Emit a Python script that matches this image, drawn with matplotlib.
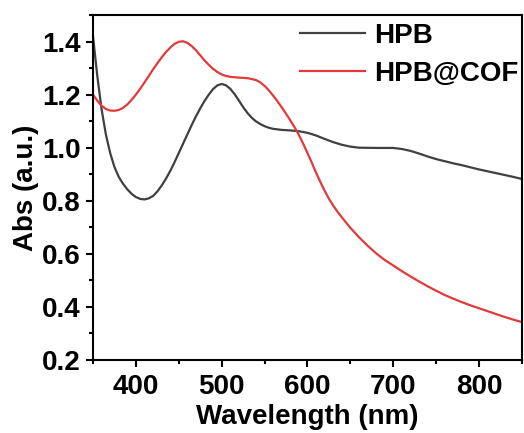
import numpy as np
from matplotlib import pyplot as plt
from matplotlib.ticker import MultipleLocator

plt.rcParams['font.family'] = ['Liberation Sans', 'DejaVu Sans']
plt.rcParams['font.weight'] = 'bold'
plt.rcParams['font.size'] = 20

# wavelength (nm) and absorbance
wl_hpb = [350, 355, 360, 365, 370, 375, 380, 385, 390, 395, 400, 405, 410, 415, 420,
          425, 430, 435, 440, 445, 450, 455, 460, 465, 470, 475, 480, 485, 490, 495,
          500, 505, 510, 515, 520, 525, 530, 535, 540, 545, 550, 555, 560, 570, 580, 590,
          600, 610, 620, 630, 640, 650, 660, 680, 700, 710, 720, 730, 740, 750, 760,
          770, 780, 790, 800, 810, 820, 830, 840, 850]
abs_hpb = [1.42, 1.27, 1.145, 1.05, 0.98, 0.927, 0.89, 0.864, 0.843, 0.826, 0.814, 0.807, 0.805, 0.809, 0.818,
           0.835, 0.857, 0.883, 0.912, 0.945, 0.98, 1.015, 1.05, 1.085, 1.118, 1.148, 1.176, 1.2, 1.221, 1.235,
           1.24, 1.235, 1.222, 1.202, 1.178, 1.153, 1.131, 1.113, 1.099, 1.089, 1.081, 1.075, 1.071, 1.067, 1.065, 1.062,
           1.056, 1.046, 1.033, 1.021, 1.011, 1.004, 1.0, 0.999, 0.999, 0.995, 0.988, 0.978, 0.967, 0.957, 0.949,
           0.941, 0.934, 0.926, 0.918, 0.911, 0.904, 0.897, 0.89, 0.882]

wl_cof = [350, 355, 360, 365, 370, 375, 380, 385, 390, 395, 400, 405, 410, 415, 420,
          425, 430, 435, 440, 445, 450, 455, 460, 465, 470, 475, 480, 485, 490, 495,
          500, 505, 510, 520, 530, 540, 545, 550, 555, 560, 565, 570, 575, 580, 585,
          590, 595, 600, 605, 610, 615, 620, 625, 630, 635, 640, 650, 660, 670, 680,
          690, 700, 710, 720, 730, 740, 750, 760, 770, 780, 790, 800, 810, 820, 830,
          840, 850]
abs_cof = [1.20, 1.177, 1.158, 1.146, 1.14, 1.139, 1.142, 1.15, 1.163, 1.18, 1.20, 1.222, 1.246, 1.27, 1.295,
           1.318, 1.34, 1.36, 1.377, 1.391, 1.399, 1.401, 1.395, 1.383, 1.367, 1.348, 1.329, 1.312, 1.297, 1.285,
           1.276, 1.27, 1.267, 1.264, 1.262, 1.255, 1.246, 1.233, 1.216, 1.196, 1.175, 1.152, 1.128, 1.103, 1.077,
           1.048, 1.015, 0.98, 0.944, 0.906, 0.871, 0.838, 0.808, 0.782, 0.759, 0.738, 0.698, 0.663, 0.631, 0.602,
           0.577, 0.556, 0.535, 0.515, 0.496, 0.478, 0.461, 0.445, 0.431, 0.418, 0.406, 0.395, 0.384, 0.373, 0.362,
           0.352, 0.343]

fig = plt.figure(figsize=(5.24, 4.33), dpi=100)
ax = fig.add_axes([0.1775, 0.1686, 0.8185, 0.7968])

ax.plot(wl_hpb, abs_hpb, color='#404040', lw=1.6, label='HPB')
ax.plot(wl_cof, abs_cof, color='#e23a3a', lw=1.6, label='HPB@COF')

ax.set_xlim(350, 850)
ax.set_ylim(0.2, 1.5)
ax.xaxis.set_major_locator(MultipleLocator(100))
ax.xaxis.set_minor_locator(MultipleLocator(50))
ax.yaxis.set_minor_locator(MultipleLocator(0.1))
ax.set_yticks([0.2, 0.4, 0.6, 0.8, 1.0, 1.2, 1.4])
ax.tick_params(axis='x', which='major', direction='out', length=5, width=1.5, pad=5)
ax.tick_params(axis='y', which='major', direction='out', length=5, width=1.5, pad=4)
ax.tick_params(which='minor', direction='out', length=3, width=1.5)
for s in ax.spines.values():
    s.set_linewidth(1.5)

ax.set_xlabel('Wavelength (nm)', fontweight='bold', labelpad=3)
ax.set_ylabel('Abs (a.u.)', fontweight='bold', labelpad=2)

ax.legend(loc='upper right', frameon=False, handlelength=2.35, handletextpad=0.32,
          labelspacing=0.45, borderaxespad=0.0, bbox_to_anchor=(1.018, 1.01))

fig.savefig('out.png', dpi=100)
